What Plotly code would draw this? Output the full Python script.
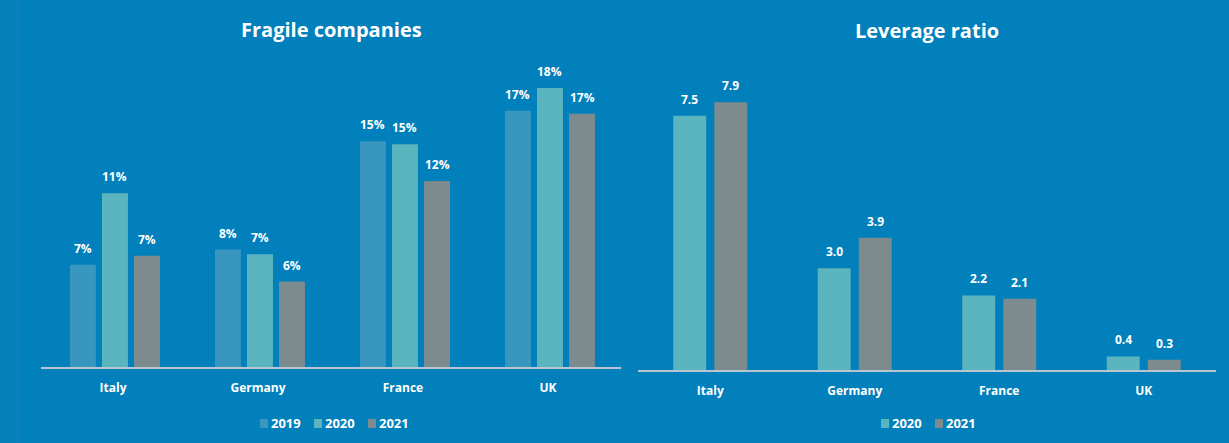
import plotly.graph_objects as go

countries = ["Italy", "Germany", "France", "UK"]

fragile_2019 = [6.7, 7.7, 14.8, 16.8]
fragile_2020 = [11.4, 7.4, 14.6, 18.3]
fragile_2021 = [7.3, 5.6, 12.2, 16.6]

leverage_2020 = [7.5, 3.0, 2.2, 0.4]
leverage_2021 = [7.9, 3.9, 2.1, 0.3]

BG = "#0280bb"
C2019 = "#3896bf"
C2020 = "#5bb5be"
C2021 = "#7b8b8e"
FONT = "Open Sans"

fig = go.Figure()


def add_labels(vals, off, w, xref, yref, fmt):
    for i, v in enumerate(vals):
        fig.add_annotation(
            x=i + off + w / 2, y=v, xref=xref, yref=yref,
            text=fmt.format(v), showarrow=False,
            xanchor="center", yanchor="bottom", yshift=6,
            font=dict(color="white", size=12, family=FONT, weight="bold"),
        )


left_w = 0.179
left_offsets = [-0.297, -0.076, 0.145]
for vals, name, col, off in zip(
    [fragile_2019, fragile_2020, fragile_2021],
    ["2019", "2020", "2021"],
    [C2019, C2020, C2021],
    left_offsets,
):
    fig.add_trace(go.Bar(
        x=countries, y=vals, name=name, marker=dict(color=col, line=dict(width=0)),
        width=left_w, offset=off,
        cliponaxis=False, xaxis="x", yaxis="y",
        showlegend=False, hoverinfo="x+y",
    ))
    add_labels(vals, off, left_w, "x", "y", "{:.0f}%")

right_w = 0.228
right_offsets = [-0.256, 0.028]
for vals, name, col, off in zip(
    [leverage_2020, leverage_2021],
    ["2020", "2021"],
    [C2020, C2021],
    right_offsets,
):
    fig.add_trace(go.Bar(
        x=countries, y=vals, name=name, marker=dict(color=col, line=dict(width=0)),
        width=right_w, offset=off,
        cliponaxis=False, xaxis="x2", yaxis="y2",
        showlegend=False, hoverinfo="x+y",
    ))
    add_labels(vals, off, right_w, "x2", "y2", "{:.1f}")

axis_common = dict(
    showgrid=False, zeroline=False, showline=True, linecolor="#b9c6cf", linewidth=2,
    ticks="", ticklabelstandoff=9,
    tickfont=dict(color="white", size=12, family=FONT, weight="bold"),
    fixedrange=True,
)

fig.update_layout(
    width=1229, height=443,
    margin=dict(l=0, r=0, t=0, b=0),
    paper_bgcolor=BG, plot_bgcolor=BG,
    barmode="overlay",
    showlegend=False,
    xaxis=dict(domain=[40.5 / 1229, 620.5 / 1229], anchor="y", **axis_common),
    xaxis2=dict(domain=[638 / 1229, 1216 / 1229], anchor="y2", **axis_common),
    yaxis=dict(domain=[(443 - 367) / 443, (443 - 62) / 443], range=[0, 20],
               visible=False, fixedrange=True),
    yaxis2=dict(domain=[(443 - 370) / 443, (443 - 65) / 443], range=[0, 9],
                visible=False, fixedrange=True),
)

fig.add_annotation(text="Fragile companies", xref="paper", yref="paper",
                   x=331 / 1229, y=(443 - 30) / 443, showarrow=False,
                   xanchor="center", yanchor="middle",
                   font=dict(color="white", size=20, family=FONT, weight="bold"))
fig.add_annotation(text="Leverage ratio", xref="paper", yref="paper",
                   x=927 / 1229, y=(443 - 31) / 443, showarrow=False,
                   xanchor="center", yanchor="middle",
                   font=dict(color="white", size=20, family=FONT, weight="bold"))


def legend_items(items, y_px, x_start_px, spacing):
    x = x_start_px
    for name, col in items:
        fig.add_shape(type="rect", xref="paper", yref="paper",
                      x0=x / 1229, x1=(x + 8) / 1229,
                      y0=(443 - y_px - 5) / 443, y1=(443 - y_px + 4) / 443,
                      fillcolor=col, line=dict(width=0))
        fig.add_annotation(text=name, xref="paper", yref="paper",
                           x=(x + 9) / 1229, y=(443 - y_px) / 443,
                           xanchor="left", yanchor="middle", showarrow=False,
                           font=dict(color="white", size=13, family=FONT, weight="bold"))
        x += spacing


legend_items([("2019", C2019), ("2020", C2020), ("2021", C2021)], 423, 260, 54)
legend_items([("2020", C2020), ("2021", C2021)], 423, 881, 54)

fig.add_shape(type="rect", xref="paper", yref="paper", x0=0, x1=22 / 1229, y0=0, y1=1,
              fillcolor="#0881ba", line=dict(width=0), layer="below")

fig.write_html("out.html", config={"displayModeBar": False},
               post_script="document.body.style.margin='0';")
